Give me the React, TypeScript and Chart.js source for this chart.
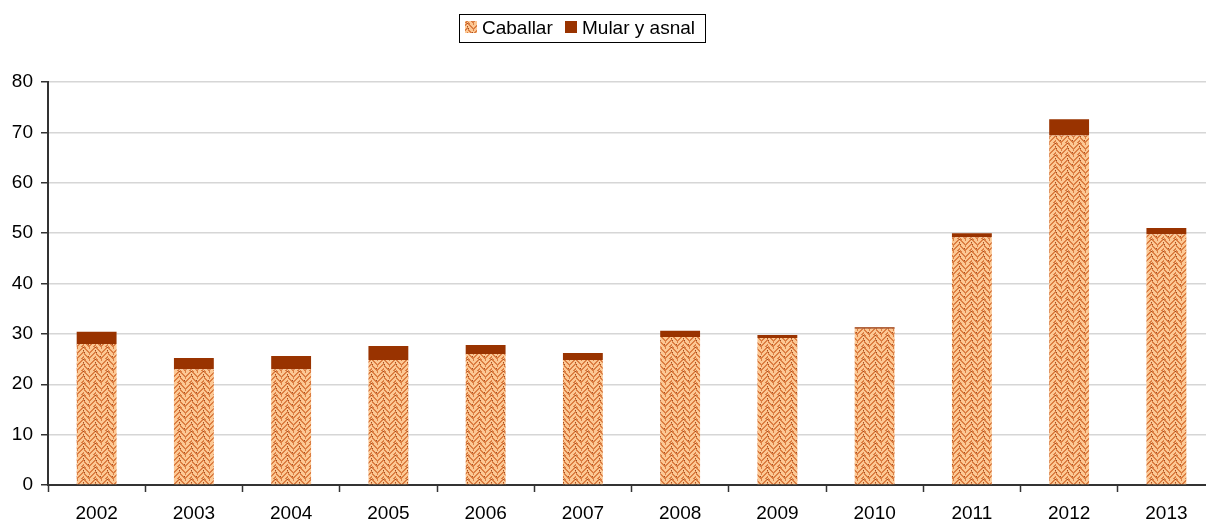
import React, { useEffect, useRef } from "react";
import { Chart, registerables } from "chart.js";

Chart.register(...registerables);

const years = ["2002", "2003", "2004", "2005", "2006", "2007", "2008", "2009", "2010", "2011", "2012", "2013"];
const caballar = [28.0, 23.0, 23.0, 24.8, 26.0, 24.8, 29.4, 29.2, 31.0, 49.2, 69.4, 49.8];
const mularYAsnal = [2.4, 2.2, 2.6, 2.8, 1.8, 1.4, 1.2, 0.6, 0.3, 0.8, 3.2, 1.2];
const yTickValues = [0, 10, 20, 30, 40, 50, 60, 70, 80];
const seriesNames = ["Caballar", "Mular y asnal"];

const FONT = '"Liberation Sans", Arial, sans-serif';
const MULAR_COLOR = "#993300";

// 12x12 herringbone-like weave tile (L = light peach, O = orange, D = dark brown)
const tileRows = [
  "OOLLLOLLLOOL",
  "LOOLLLLLOOLL",
  "LLOOLLLOOLLD",
  "LLLOOLOOLLLO",
  "DLLLOOOLLLOO",
  "OLLLLOLLLOOL",
  "OOLLLOLLOOLL",
  "LOOLLLLOOLLL",
  "LLOODLOOLLLO",
  "LLLOOOOLLLOO",
  "OLLLOOLLLOOL",
  "OOLLLOLLLLOD",
];
const tileColors: Record<string, string> = { L: "#FCC894", O: "#DC7E42", D: "#A24D22" };

function makePattern(ctx: CanvasRenderingContext2D): CanvasPattern | string {
  const tile = document.createElement("canvas");
  tile.width = 12;
  tile.height = 12;
  const t = tile.getContext("2d");
  if (!t) return "#EFA370";
  tileRows.forEach((row, y) => {
    row.split("").forEach((c, x) => {
      t.fillStyle = tileColors[c];
      t.fillRect(x, y, 1, 1);
    });
  });
  return ctx.createPattern(tile, "repeat") || "#EFA370";
}

export default function App() {
  const canvasRef = useRef<HTMLCanvasElement | null>(null);

  useEffect(() => {
    const canvas = canvasRef.current;
    if (!canvas) return;
    const ctx = canvas.getContext("2d");
    if (!ctx) return;
    const pattern = makePattern(ctx);

    const legendPlugin = {
      id: "boxLegend",
      afterDraw(chart: any) {
        const c = chart.ctx as CanvasRenderingContext2D;
        c.save();
        c.fillStyle = "#ffffff";
        c.fillRect(459, 14, 246, 28);
        c.strokeStyle = "#000000";
        c.lineWidth = 1;
        c.strokeRect(459.5, 14.5, 246, 28);
        c.fillStyle = pattern as any;
        c.fillRect(465, 21, 12, 12);
        c.fillStyle = MULAR_COLOR;
        c.fillRect(565, 21, 12, 12);
        c.fillStyle = "#000000";
        c.font = `19px ${FONT}`;
        c.textBaseline = "middle";
        c.textAlign = "left";
        c.fillText(seriesNames[0], 482, 28.5);
        c.fillText(seriesNames[1], 582, 28.5);
        c.restore();
      },
    };

    const chart = new Chart(canvas, {
      type: "bar",
      data: {
        labels: years,
        datasets: [
          {
            label: seriesNames[0],
            data: caballar,
            backgroundColor: pattern as any,
            borderWidth: 0,
            categoryPercentage: 1,
            barPercentage: 0.41,
          },
          {
            label: seriesNames[1],
            data: mularYAsnal,
            backgroundColor: MULAR_COLOR,
            borderWidth: 0,
            categoryPercentage: 1,
            barPercentage: 0.41,
          },
        ],
      },
      options: {
        animation: false,
        responsive: false,
        maintainAspectRatio: false,
        layout: { padding: { top: 82, right: 0, bottom: 0, left: 0 } },
        plugins: {
          legend: { display: false },
          tooltip: { enabled: false },
          title: { display: false },
        },
        scales: {
          x: {
            stacked: true,
            afterFit: (scale: any) => {
              scale.height = 37;
            },
            grid: {
              offset: true,
              drawOnChartArea: false,
              drawTicks: true,
              tickLength: 7,
              tickColor: "#333333",
              tickWidth: 1.5,
            },
            border: { display: true, color: "#333333", width: 2 },
            ticks: {
              color: "#000000",
              font: { family: FONT, size: 19 },
              padding: 10,
              maxRotation: 0,
              autoSkip: false,
            },
          },
          y: {
            stacked: true,
            min: 0,
            max: 80,
            afterFit: (scale: any) => {
              scale.width = 48;
            },
            afterBuildTicks: (scale: any) => {
              scale.ticks = yTickValues.map((v) => ({ value: v }));
            },
            grid: {
              color: "#d6d6d6",
              lineWidth: 1.5,
              drawTicks: true,
              tickLength: 7,
              tickColor: "#333333",
              tickWidth: 1.5,
            },
            border: { display: true, color: "#333333", width: 2 },
            ticks: {
              color: "#000000",
              font: { family: FONT, size: 19 },
              padding: 8,
            },
          },
        },
      },
      plugins: [legendPlugin],
    });

    return () => {
      chart.destroy();
    };
  }, []);

  return (
    <div
      style={{
        position: "fixed",
        left: 0,
        top: 0,
        width: 1206,
        height: 522,
        overflow: "hidden",
        background: "#ffffff",
      }}
    >
      <canvas ref={canvasRef} width={1215} height={522} style={{ display: "block" }} />
    </div>
  );
}
